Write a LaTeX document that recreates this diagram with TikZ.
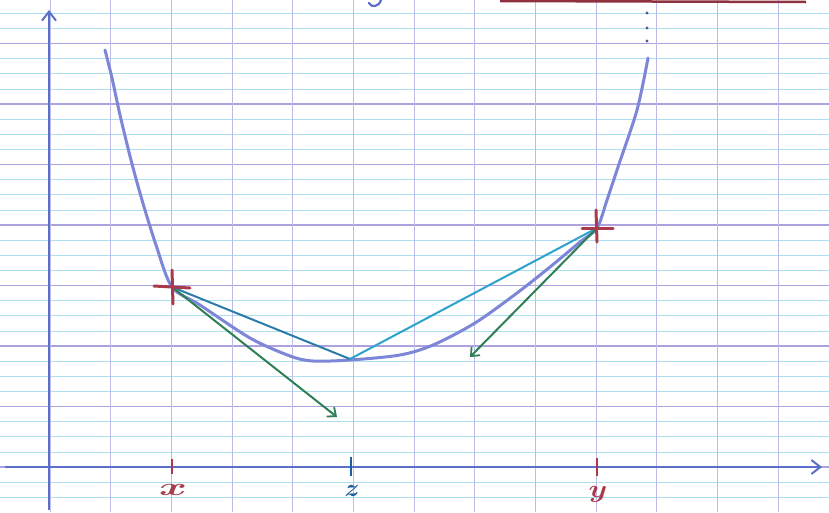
\documentclass[tikz,border=0pt]{standalone}
\usetikzlibrary{arrows.meta}
\definecolor{gridv}{HTML}{BCBCE6}
\definecolor{gridp}{HTML}{AEA2DE}
\definecolor{gridc}{HTML}{ADDFF2}
\definecolor{axisblue}{HTML}{5B6EC9}
\definecolor{curveblue}{HTML}{7E86D8}
\definecolor{crossred}{HTML}{A83A4C}
\definecolor{chordA}{HTML}{2A7DAA}
\definecolor{chordB}{HTML}{2EA2CC}
\definecolor{arrowgreen}{HTML}{2F7F55}
\definecolor{zblue}{HTML}{1F5E9E}
\tikzset{
  gridvline/.style={gridv, line width=0.8pt},
  gridpline/.style={gridp, line width=1.1pt},
  gridcline/.style={gridc, line width=0.8pt},
  axisline/.style={axisblue, line width=2.6pt, -{Straight Barb[length=9pt,width=14pt,line width=2pt]}},
  curveline/.style={curveblue, line width=3pt, line cap=round},
  crossmark/.style={crossred, line width=3pt, line cap=round},
  chordone/.style={chordA, line width=2pt},
  chordtwo/.style={chordB, line width=2pt},
  gradarrow/.style={arrowgreen, line width=2pt, -{Straight Barb[length=7pt,width=12pt,line width=1.8pt]}},
  redtick/.style={crossred, line width=2.5pt},
  bluetick/.style={zblue, line width=2.8pt},
  lab/.style={font=\fontsize{28}{28}\selectfont\boldmath, inner sep=0pt}
}
\begin{document}
\begin{tikzpicture}[x=1pt,y=-1pt]
\useasboundingbox (0,0) rectangle (829,512);
\fill[white] (0,0) rectangle (829,512);
% cyan fine lines (three between each pair of strong lines)
\foreach \gy in {13.2,28.4,58.6,73.8,88.9,119.1,134.3,149.4,179.6,194.8,209.9,240.1,255.3,270.4,300.6,315.8,330.9,361.1,376.3,391.4,421.6,436.8,451.9,482.1,497.3}
  \draw[gridcline] (0,\gy) -- (829,\gy);
% purple strong lines
\foreach \gy in {43.5,104,164.5,225,285.5,346,406.5,467}
  \draw[gridpline] (0,\gy) -- (829,\gy);
% vertical lines
\foreach \gx in {50,110.7,171.3,232,292.7,353.3,414,474.7,535.3,596,656.7,717.3,778}
  \draw[gridvline] (\gx,0) -- (\gx,512);
% top red line and partial glyph
\draw[crossred!85!black, line width=2.5pt] (500,1) -- (806,2);
\draw[axisblue, line width=2.2pt, line cap=round] (381,0) .. controls (379,7) and (371,8) .. (369,3);
% dots at top of right branch
\foreach \yy in {13,28,41} \fill[axisblue!80!black] (647,\yy) circle (1.6pt);
% axes
\coordinate (ytop) at (49,10);
\coordinate (ybot) at (49,510);
\coordinate (xleft) at (5,467);
\coordinate (xright) at (822,467);
\draw[axisline] (ybot) -- (ytop);
\draw[axisline] (xleft) -- (xright);
% curve
\draw[curveline] plot[smooth, tension=0.5] coordinates {
  (105,50) (112,78) (120,115) (131,160) (142,200) (156,245) (172,287)
  (200,305) (250,338) (290,356) (313,361) (350,360) (400,355)
  (433,345) (475,323) (517,293) (550,267) (580,242) (597,228)
  (607,200) (618,167) (637,110) (648,58)};
% key points
\coordinate (px) at (172,287);
\coordinate (py) at (597,228);
\coordinate (pz) at (350,359);
\coordinate (gx) at (337,417);
\coordinate (gy) at (470,357);
% chords
\draw[chordone] (px) -- (pz);
\draw[chordtwo] (pz) -- (py);
% gradient arrows
\draw[gradarrow] (px) -- (gx);
\draw[gradarrow] (py) -- (gy);
% crosses
\draw[crossmark] (154,286) -- (190,288);
\draw[crossmark] (172,270) -- (173,304);
\draw[crossmark] (582,228) -- (613,228);
\draw[crossmark] (596,210) -- (597,242);
% ticks
\draw[redtick] (172,459) -- (172,474);
\draw[bluetick] (351,457) -- (351,476);
\draw[redtick] (597,458) -- (597,476);
% labels
\node[lab, text=crossred, xscale=1.7] (lx) at (173,490) {$x$};
\node[lab, text=zblue] (lz) at (352,491) {$z$};
\node[lab, text=crossred, xscale=1.2] (ly) at (598,494) {$y$};
\end{tikzpicture}
\end{document}
